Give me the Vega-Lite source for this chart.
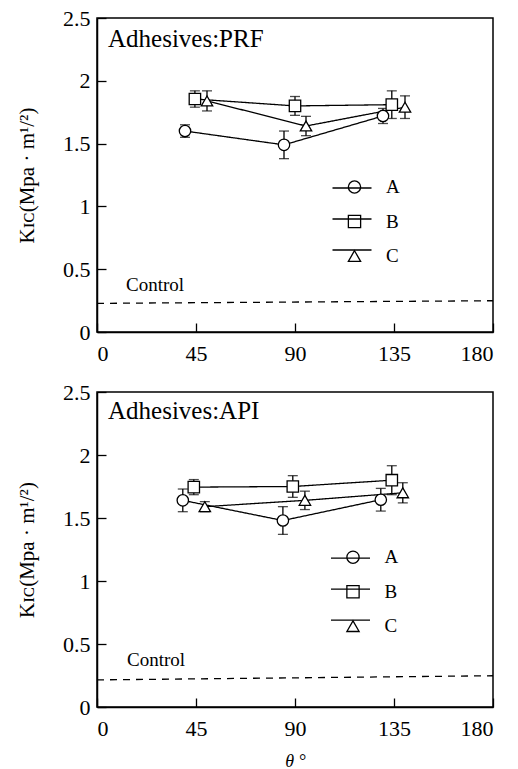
{
  "$schema": "https://vega.github.io/schema/vega-lite/v6.json",
  "padding": {"left": 15, "top": 6, "right": 10, "bottom": 0},
  "background": "white",
  "datasets": {
    "main": [
      {"adhesive": "PRF", "series": "A", "theta": 40, "k": 1.60, "err": 0.05},
      {"adhesive": "PRF", "series": "A", "theta": 85, "k": 1.49, "err": 0.11},
      {"adhesive": "PRF", "series": "A", "theta": 130, "k": 1.72, "err": 0.06},
      {"adhesive": "PRF", "series": "B", "theta": 44.5, "k": 1.855, "err": 0.065},
      {"adhesive": "PRF", "series": "B", "theta": 90, "k": 1.80, "err": 0.075},
      {"adhesive": "PRF", "series": "B", "theta": 134, "k": 1.81, "err": 0.11},
      {"adhesive": "PRF", "series": "C", "theta": 50, "k": 1.84, "err": 0.08},
      {"adhesive": "PRF", "series": "C", "theta": 95, "k": 1.64, "err": 0.077},
      {"adhesive": "PRF", "series": "C", "theta": 140, "k": 1.79, "err": 0.09},
      {"adhesive": "API", "series": "A", "theta": 39, "k": 1.64, "err": 0.09},
      {"adhesive": "API", "series": "A", "theta": 84.5, "k": 1.48, "err": 0.11},
      {"adhesive": "API", "series": "A", "theta": 129, "k": 1.645, "err": 0.09},
      {"adhesive": "API", "series": "B", "theta": 44, "k": 1.745, "err": 0.06},
      {"adhesive": "API", "series": "B", "theta": 89, "k": 1.75, "err": 0.086},
      {"adhesive": "API", "series": "B", "theta": 134, "k": 1.80, "err": 0.115},
      {"adhesive": "API", "series": "C", "theta": 49, "k": 1.59, "err": 0.04},
      {"adhesive": "API", "series": "C", "theta": 94.5, "k": 1.64, "err": 0.073},
      {"adhesive": "API", "series": "C", "theta": 139, "k": 1.70, "err": 0.08}
    ],
    "control": [
      {"adhesive": "PRF", "theta": 0, "k": 0.228},
      {"adhesive": "PRF", "theta": 180, "k": 0.249},
      {"adhesive": "API", "theta": 0, "k": 0.215},
      {"adhesive": "API", "theta": 180, "k": 0.248}
    ]
  },
  "config": {
    "font": "Liberation Serif",
    "view": {"stroke": "black", "strokeWidth": 1.5},
    "axis": {
      "domainColor": "black", "domainWidth": 1.5, "zindex": 1,
      "tickColor": "black", "tickWidth": 1.3, "tickSize": -9,
      "labelFont": "Liberation Serif", "labelFontSize": 22, "labelColor": "black", "labelPadding": 16,
      "titleFont": "Liberation Serif", "titleFontSize": 21, "titleColor": "black", "titleFontWeight": "normal",
      "grid": false
    },
    "axisX": {"labelPadding": 20},
    "text": {"font": "Liberation Serif", "color": "black"},
    "title": {"font": "Liberation Serif", "fontSize": 25, "fontWeight": "normal", "color": "black", "anchor": "start", "frame": "group"}
  },
  "bounds": "flush",
  "spacing": 60,
  "resolve": {
    "scale": {"x": "independent", "y": "independent", "shape": "independent", "strokeDash": "independent"},
    "legend": {"shape": "independent", "strokeDash": "independent"}
  },
  "vconcat": [
    {
      "width": 396, "height": 314,
      "title": {"text": "Adhesives:PRF", "offset": -45, "dx": 11},
      "encoding": {
        "x": {"field": "theta", "type": "quantitative", "scale": {"domain": [0, 180], "nice": false},
              "axis": {"values": [0, 45, 90, 135, 180], "title": null}},
        "y": {"field": "k", "type": "quantitative", "scale": {"domain": [0, 2.5], "nice": false},
              "axis": {"values": [0, 0.5, 1, 1.5, 2, 2.5], "format": "~g", "title": "Kɪᴄ(Mpa · m¹/²)", "titlePadding": 25}}
      },
      "layer": [
        {
          "data": {"name": "control"},
          "transform": [{"filter": "datum.adhesive === 'PRF'"}],
          "layer": [
            {"mark": {"type": "line", "color": "black", "strokeWidth": 1.3, "strokeDash": [7, 6]}},
            {"transform": [{"filter": "datum.theta === 0"}],
             "mark": {"type": "text", "align": "left", "baseline": "alphabetic", "fontSize": 19, "dx": 29, "dy": -12},
             "encoding": {"text": {"value": "Control"}}}
          ]
        },
        {
          "data": {"name": "main"},
          "transform": [{"filter": "datum.adhesive === 'PRF'"}],
          "resolve": {"scale": {"shape": "independent"}, "legend": {"shape": "independent"}},
          "layer": [
            {
              "mark": {"type": "errorbar", "ticks": {"size": 10}, "color": "black", "thickness": 1.3},
              "encoding": {"yError": {"field": "err"}}
            },
            {
              "mark": {"type": "line", "color": "black", "strokeWidth": 1.3},
              "encoding": {
                "strokeDash": {"field": "series", "type": "nominal",
                  "scale": {"range": [[1, 0], [1, 0], [1, 0]]},
                  "legend": {"title": null, "orient": "none", "legendX": 234.5, "legendY": 149.5, "padding": 0,
                    "symbolType": "stroke", "symbolSize": 1521, "symbolStrokeWidth": 1.3, "symbolStrokeColor": "black",
                    "labelExpr": "' '", "labelOpacity": 0, "labelFontSize": 19, "rowPadding": -4.5}}
              }
            },
            {
              "mark": {"type": "point", "filled": true, "fill": "white", "strokeWidth": 0, "size": 130, "opacity": 1},
              "encoding": {
                "shape": {"field": "series", "type": "nominal", "legend": null,
                  "scale": {"domain": ["A", "B", "C"], "range": ["circle", "square", "triangle-up"]}}
              }
            },
            {
              "mark": {"type": "point", "filled": false, "color": "black", "strokeWidth": 1.3, "size": 130, "opacity": 1},
              "encoding": {
                "shape": {"field": "series", "type": "nominal",
                  "scale": {"domain": ["A", "B", "C"], "range": ["circle", "square", "triangle-up"]},
                  "legend": {"title": null, "orient": "none", "legendX": 248, "legendY": 159.5, "padding": 0,
                    "symbolSize": 150, "symbolStrokeWidth": 1.3, "symbolStrokeColor": "black",
                    "labelFontSize": 19, "labelFont": "Liberation Serif", "labelColor": "black", "labelOffset": 22, "rowPadding": 14.5}}
              }
            }
          ]
        }
      ]
    },
    {
      "width": 396, "height": 315,
      "title": {"text": "Adhesives:API", "offset": -43, "dx": 11},
      "encoding": {
        "x": {"field": "theta", "type": "quantitative", "scale": {"domain": [0, 180], "nice": false},
              "axis": {"values": [0, 45, 90, 135, 180], "title": "θ °", "titleFontStyle": "italic", "titleFontSize": 18, "titlePadding": 13}},
        "y": {"field": "k", "type": "quantitative", "scale": {"domain": [0, 2.5], "nice": false},
              "axis": {"values": [0, 0.5, 1, 1.5, 2, 2.5], "format": "~g", "title": "Kɪᴄ(Mpa · m¹/²)", "titlePadding": 25}}
      },
      "layer": [
        {
          "data": {"name": "control"},
          "transform": [{"filter": "datum.adhesive === 'API'"}],
          "layer": [
            {"mark": {"type": "line", "color": "black", "strokeWidth": 1.3, "strokeDash": [7, 6]}},
            {"transform": [{"filter": "datum.theta === 0"}],
             "mark": {"type": "text", "align": "left", "baseline": "alphabetic", "fontSize": 19, "dx": 30, "dy": -14},
             "encoding": {"text": {"value": "Control"}}}
          ]
        },
        {
          "data": {"name": "main"},
          "transform": [{"filter": "datum.adhesive === 'API'"}],
          "resolve": {"scale": {"shape": "independent"}, "legend": {"shape": "independent"}},
          "layer": [
            {
              "mark": {"type": "errorbar", "ticks": {"size": 10}, "color": "black", "thickness": 1.3},
              "encoding": {"yError": {"field": "err"}}
            },
            {
              "mark": {"type": "line", "color": "black", "strokeWidth": 1.3},
              "encoding": {
                "strokeDash": {"field": "series", "type": "nominal",
                  "scale": {"range": [[1, 0], [1, 0], [1, 0]]},
                  "legend": {"title": null, "orient": "none", "legendX": 233, "legendY": 145.7, "padding": 0,
                    "symbolType": "stroke", "symbolSize": 1521, "symbolStrokeWidth": 1.3, "symbolStrokeColor": "black",
                    "labelExpr": "' '", "labelOpacity": 0, "labelFontSize": 19, "rowPadding": -4}}
              }
            },
            {
              "mark": {"type": "point", "filled": true, "fill": "white", "strokeWidth": 0, "size": 130, "opacity": 1},
              "encoding": {
                "shape": {"field": "series", "type": "nominal", "legend": null,
                  "scale": {"domain": ["A", "B", "C"], "range": ["circle", "square", "triangle-up"]}}
              }
            },
            {
              "mark": {"type": "point", "filled": false, "color": "black", "strokeWidth": 1.3, "size": 130, "opacity": 1},
              "encoding": {
                "shape": {"field": "series", "type": "nominal",
                  "scale": {"domain": ["A", "B", "C"], "range": ["circle", "square", "triangle-up"]},
                  "legend": {"title": null, "orient": "none", "legendX": 246.5, "legendY": 155.7, "padding": 0,
                    "symbolSize": 150, "symbolStrokeWidth": 1.3, "symbolStrokeColor": "black",
                    "labelFontSize": 19, "labelFont": "Liberation Serif", "labelColor": "black", "labelOffset": 22, "rowPadding": 14.5}}
              }
            }
          ]
        }
      ]
    }
  ]
}
